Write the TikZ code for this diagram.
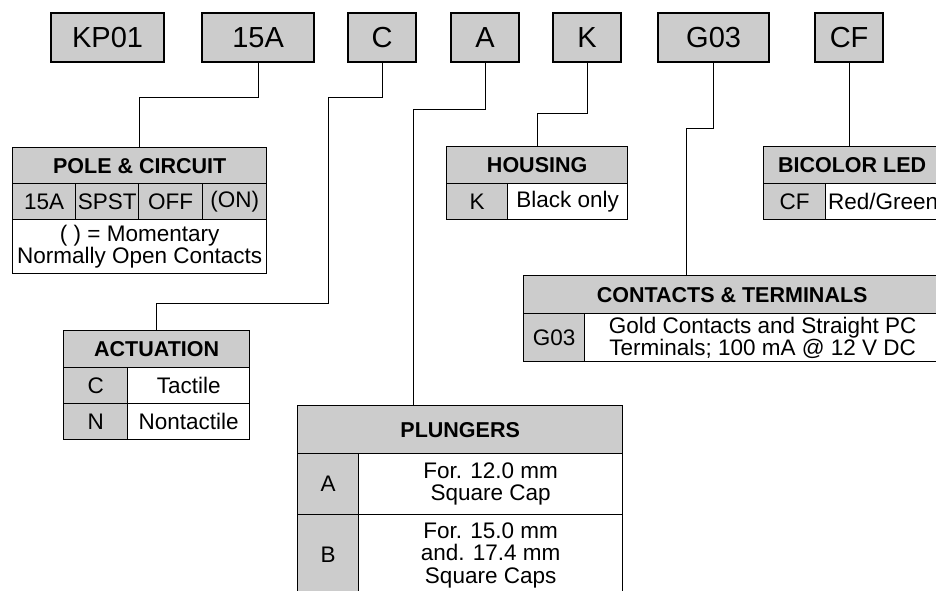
\documentclass[tikz,border=0pt]{standalone}
\usepackage{fontspec}
\setmainfont{Liberation Sans}
\usepackage{tikz}
\usetikzlibrary{positioning}
\definecolor{boxgray}{RGB}{204,204,204}

\tikzset{
  code/.style={draw, line width=2.2pt, fill=boxgray, anchor=north west, minimum height=49pt, inner sep=0pt, font=\fontsize{29}{29}\selectfont},
  cell/.style={draw, line width=1.3pt, anchor=north west, inner sep=0pt, align=center, font=\fontsize{22.5}{22.5}\selectfont},
  grey/.style={cell, fill=boxgray},
  head/.style={grey, font=\fontsize{21.5}{22}\selectfont\bfseries},
  link/.style={line width=1pt}
}

\begin{document}
\begin{tikzpicture}[x=1pt,y=-1pt]
\clip (0,0) rectangle (936,590);
\fill[white] (0,0) rectangle (936,590);

% part number boxes
\node[code, minimum width=113pt] (bKP) at (50,12) {KP01};
\node[code, minimum width=112pt] (b15A) at (201,12) {15A};
\node[code, minimum width=68pt] (bC) at (347,12) {C};
\node[code, minimum width=68pt] (bA) at (450,12) {A};
\node[code, minimum width=68pt] (bK) at (552,12) {K};
\node[code, minimum width=111pt] (bG) at (657,12) {G03};
\node[code, minimum width=68pt] (bCF) at (814,12) {CF};

% pole & circuit
\node[head, minimum width=254pt, minimum height=36pt] (pole) at (12,147) {POLE \& CIRCUIT};
\node[grey, minimum width=63pt, minimum height=36pt] (p1) at (12,183) {15A};
\node[grey, minimum width=63pt, minimum height=36pt] (p2) at (75,183) {SPST};
\node[grey, minimum width=64pt, minimum height=36pt] (p3) at (138,183) {OFF};
\node[grey, minimum width=64pt, minimum height=36pt] (p4) at (202,183) {(ON)};
\node[cell, minimum width=254pt, minimum height=54pt] (pnote) at (12,219) {( ) = Momentary\\Normally Open Contacts};

% housing
\node[head, minimum width=181pt, minimum height=37pt] (hous) at (446,146) {HOUSING};
\node[grey, minimum width=61pt, minimum height=36pt] (h1) at (446,183) {K};
\node[cell, minimum width=120pt, minimum height=36pt] (h2) at (507,183) {Black only};

% bicolor led
\node[head, minimum width=177pt, minimum height=37pt] (bicol) at (763,146) {BICOLOR LED};
\node[grey, minimum width=62pt, minimum height=36pt] (l1) at (763,183) {CF};
\node[cell, minimum width=115pt, minimum height=36pt] (l2) at (825,183) {Red/Green};

% contacts & terminals
\node[head, minimum width=417pt, minimum height=38pt] (cont) at (523,275) {CONTACTS \& TERMINALS};
\node[grey, minimum width=61pt, minimum height=48pt] (c1) at (523,313) {G03};
\node[cell, minimum width=356pt, minimum height=48pt] (c2) at (584,313) {Gold Contacts and Straight PC\\Terminals; 100 mA @ 12 V DC};

% actuation
\node[head, minimum width=186pt, minimum height=37pt] (act) at (63,330) {ACTUATION};
\node[grey, minimum width=64pt, minimum height=36pt] (a1) at (63,367) {C};
\node[cell, minimum width=122pt, minimum height=36pt] (a2) at (127,367) {Tactile};
\node[grey, minimum width=64pt, minimum height=36pt] (a3) at (63,403) {N};
\node[cell, minimum width=122pt, minimum height=36pt] (a4) at (127,403) {Nontactile};

% plungers
\node[head, minimum width=325pt, minimum height=48pt] (plung) at (297,405) {PLUNGERS};
\node[grey, minimum width=61pt, minimum height=61pt] (u1) at (297,453) {A};
\node[cell, minimum width=264pt, minimum height=61pt] (u2) at (358,453) {For. 12.0 mm\\Square Cap};
\node[grey, minimum width=61pt, minimum height=81pt] (u3) at (297,514) {B};
\node[cell, minimum width=264pt, minimum height=81pt] (u4) at (358,514) {For. 15.0 mm\\and. 17.4 mm\\Square Caps};

\coordinate (plin) at (413,405);
\coordinate (coin) at (686,275);

% leaders
\draw[link] (b15A.south) -- ++(0,34) -| (pole.north);
\draw[link] (bC.south) -- ++(0,34) -| ++(-54,206) -| (act.north);
\draw[link] (bA.south) -- ++(0,46) -| (plin);
\draw[link] (bK.south) -- ++(0,50) -| (hous.north);
\draw[link] (bG.south) -- ++(0,65) -| (coin);
\draw[link] (bCF.south) -- (bCF.south |- bicol.north);
\end{tikzpicture}
\end{document}
